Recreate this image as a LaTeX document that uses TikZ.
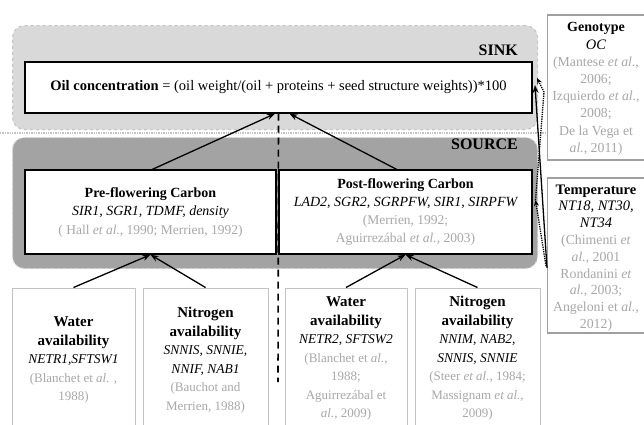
\documentclass[tikz,border=0pt]{standalone}
\usepackage{fontspec}
\setmainfont{Liberation Serif}
\usetikzlibrary{arrows.meta}
\definecolor{sinkgray}{HTML}{D9D9D9}
\definecolor{sinkborder}{HTML}{C4C4C4}
\definecolor{srcgray}{HTML}{A3A3A3}
\definecolor{srcborder}{HTML}{D2D2D2}
\definecolor{reftext}{HTML}{A8A8A8}
\definecolor{boxline}{HTML}{C2C2C2}
\definecolor{sideline}{HTML}{A0A0A0}
\newcommand{\hdr}[2]{{\fontsize{#1}{18}\selectfont\bfseries #2}}
\newcommand{\gen}[2]{{\fontsize{#1}{18}\selectfont\itshape #2}}
\newcommand{\rft}[1]{{\color{reftext}#1}}
\begin{document}
\begin{tikzpicture}[x=1pt,y=-1pt,
  panel/.style={dashed, rounded corners=12pt, line width=1pt, inner sep=0pt, minimum width=525pt, anchor=north west},
  mainbox/.style={draw=black, fill=white, line width=1.4pt, inner sep=0pt, align=center},
  lowbox/.style={draw=boxline, fill=white, line width=1pt, inner sep=0pt, minimum height=152pt},
  sidebox/.style={draw=sideline, fill=white, line width=1.1pt, inner sep=0pt, minimum width=110pt, anchor=west},
  txt/.style={align=center, inner sep=0pt, font=\fontsize{13}{18.5}\selectfont},
  conn/.style={-{Stealth[length=8pt,width=6pt]}, line width=1.3pt},
  dotconn/.style={-{Stealth[length=6pt,width=5pt]}, line width=1.3pt, densely dotted},
  label/.style={anchor=east, inner sep=0pt, font=\fontsize{16}{18}\selectfont\bfseries}
]
\useasboundingbox (0,0) rectangle (644,424);
\fill[white] (0,0) rectangle (644,424);

% panels
\node[panel, fill=sinkgray, draw=sinkborder, minimum height=104pt] (sink) at (12,25) {};
\node[panel, fill=srcgray, draw=srcborder, minimum height=131pt] (source) at (12,137) {};
\coordinate (sepL) at (0,133);
\coordinate (sepR) at (548,133);
\draw[draw=sinkborder, densely dotted, line width=1.4pt] (sepL) -- (sepR);
\node[label] (sinklbl) at (518,50) {SINK};
\node[label] (srclbl) at (518,144) {SOURCE};

% oil box
\node[mainbox, minimum width=507pt, minimum height=51pt, font=\fontsize{14.5}{18}\selectfont] (oil) at (278.5,87.5)
  {\textbf{Oil concentration} = (oil weight/(oil + proteins + seed structure weights))*100};

% carbon boxes
\node[mainbox, minimum width=251pt, minimum height=84pt, font=\fontsize{13.5}{18.5}\selectfont] (pre) at (150.5,212)
  {\hdr{14}{Pre-flowering Carbon}\\ \gen{14}{SIR1, SGR1, TDMF, density}\\ \rft{( Hall \textit{et al.}, 1990; Merrien, 1992)}};
\node[mainbox, minimum width=253pt, minimum height=84pt, font=\fontsize{13.5}{18}\selectfont] (post) at (405.5,212)
  {\hdr{14}{Post-flowering Carbon}\\ \gen{14}{LAD2, SGR2, SGRPFW, SIR1, SIRPFW}\\ \rft{(Merrien, 1992;}\\ \rft{Aguirrezábal \textit{et al.}, 2003)}};

% lower boxes
\node[lowbox, minimum width=123pt] (b1) at (73.5,364) {};
\node[lowbox, minimum width=125pt] (b2) at (205.5,364) {};
\node[lowbox, minimum width=122pt] (b3) at (346,364) {};
\node[lowbox, minimum width=125pt] (b4) at (477.5,364) {};
\node[txt] (t1) at (73.5,360)
  {\hdr{15}{Water}\\ \hdr{15}{availability}\\ \gen{13.5}{NETR1,SFTSW1}\\ \rft{(Blanchet et \textit{al.} ,}\\ \rft{1988)}};
\node[txt] (t2) at (205.5,360)
  {\hdr{15}{Nitrogen}\\ \hdr{15}{availability}\\ \gen{13.5}{SNNIS, SNNIE,}\\ \gen{13.5}{NNIF, NAB1}\\ \rft{(Bauchot and}\\ \rft{Merrien, 1988)}};
\node[txt] (t3) at (346,358.5)
  {\hdr{15}{Water}\\ \hdr{15}{availability}\\ \gen{13.5}{NETR2, SFTSW2}\\ \rft{(Blanchet et \textit{al.},}\\ \rft{1988;}\\ \rft{Aguirrezábal et}\\ \rft{\textit{al.}, 2009)}};
\node[txt] (t4) at (477.5,358.5)
  {\hdr{15}{Nitrogen}\\ \hdr{15}{availability}\\ \gen{13.5}{NNIM, NAB2,}\\ \gen{13.5}{SNNIS, SNNIE}\\ \rft{(Steer \textit{et al.}, 1984;}\\ \rft{Massignam \textit{et al.},}\\ \rft{2009)}};

% side boxes (run past the right edge)
\node[sidebox, minimum height=145pt] (geno) at (547,87.5) {};
\node[sidebox, minimum height=155pt] (temp) at (547,255.5) {};
\node[txt, font=\fontsize{13.8}{17.2}\selectfont] (genotxt) at (596,89)
  {\hdr{14}{Genotype}\\ \gen{14.5}{OC}\\ \rft{(Mantese \textit{et al.},}\\ \rft{2006;}\\ \rft{Izquierdo \textit{et al.},}\\ \rft{2008;}\\ \rft{De la Vega et}\\ \rft{\textit{al.}, 2011)}};
\node[txt, font=\fontsize{13.8}{16.8}\selectfont] (temptxt) at (596,258)
  {\hdr{14.5}{Temperature}\\ \gen{14.5}{NT18, NT30,}\\ \gen{14.5}{NT34}\\ \rft{(Chimenti \textit{et}}\\ \rft{\textit{al.}, 2001}\\ \rft{Rondanini \textit{et}}\\ \rft{\textit{al.}, 2003;}\\ \rft{Angeloni et \textit{al.},}\\ \rft{2012)}};

% dashed vertical line
\coordinate (dashend) at (278,382);
\draw[line width=1.6pt, dash pattern=on 7pt off 5pt] (oil.south) -- (dashend);

% carbon -> oil
\draw[conn] ([xshift=2pt]pre.north) -- ([xshift=-3.5pt]oil.south);
\draw[conn] ([xshift=-9pt]post.north) -- ([xshift=11pt]oil.south);

% lower -> carbon
\draw[conn] (b1.north) -- (pre.south);
\draw[conn] (b2.north) -- (pre.south);
\draw[conn] (b3.north) -- (post.south);
\draw[conn] (b4.north) -- (post.south);

% right side connectors
\coordinate (tsol) at (547,268);
\coordinate (tsolend) at (535,85);
\draw[conn] (tsol) -- (tsolend);
\coordinate (dA) at (546,266);
\coordinate (dB) at (535.5,200);
\coordinate (dC) at (544,92);
\coordinate (dD) at (537,78);
\draw[dotconn] (dA) -- (dB);
\draw[dotconn] (dB) -- (dC) -- (dD);
\end{tikzpicture}
\end{document}
